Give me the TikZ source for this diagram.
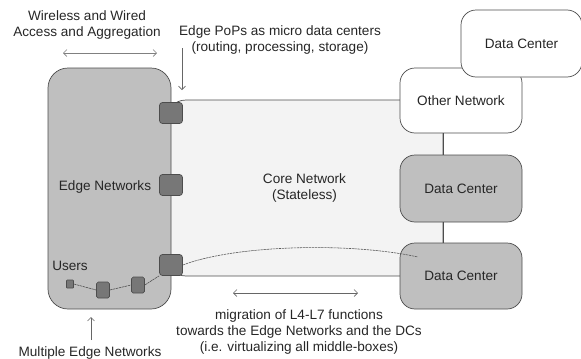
\documentclass[tikz,border=0pt]{standalone}
\usepackage{fontspec}
\setmainfont{Liberation Sans}
\usetikzlibrary{arrows.meta}
\definecolor{edgegray}{HTML}{BFBFBF}
\definecolor{popgray}{HTML}{777777}
\definecolor{coregray}{HTML}{F3F3F3}
\definecolor{linegray}{HTML}{4D4D4D}
\tikzset{
  netbox/.style={draw=linegray, line width=0.6pt, rounded corners=0.45cm, align=center},
  popbox/.style={draw=linegray, fill=popgray, line width=0.6pt, rounded corners=0.09cm, minimum width=23*0.03cm, minimum height=21*0.03cm, inner sep=0pt},
  userbox/.style={draw=linegray, fill=popgray, line width=0.5pt, rounded corners=0.05cm, inner sep=0pt},
  note/.style={align=center, inner sep=0pt},
  hint/.style={draw=gray, line width=0.5pt, {Straight Barb[length=3pt,width=6pt]}-{Straight Barb[length=3pt,width=6pt]}},
  pointer/.style={draw=gray!80!black, line width=0.5pt, -{Straight Barb[length=3pt,width=6pt]}},
  wire/.style={draw=linegray, line width=0.5pt, densely dashed, dash pattern=on 2pt off 0.6pt},
}
\begin{document}
\begin{tikzpicture}[x=0.03cm, y=-0.03cm, font=\fontsize{11.6}{13.6}\selectfont, text=black!85]
  \useasboundingbox (0,0) rectangle (581,358);
  %%% core and edge
  \node[netbox, fill=coregray, rounded corners=0.6cm, minimum width=277*0.03cm, minimum height=176*0.03cm] (core) at (304.5,188) {Core Network\\(Stateless)};
  \node[netbox, fill=edgegray, rounded corners=0.6cm, minimum width=123*0.03cm, minimum height=241*0.03cm] (edge) at (109.5,188.5) {};
  \node[note] (edgelbl) at (105,187) {Edge Networks};
  %%% edge PoPs
  \node[popbox] (pop1) at (171,113) {};
  \node[popbox] (pop2) at (171,185) {};
  \node[popbox] (pop3) at (171,265) {};
  %%% users
  \node[note] (userlbl) at (70,266) {Users};
  \node[userbox, rounded corners=0.02cm, minimum width=7*0.03cm, minimum height=8*0.03cm] (user0) at (70,284) {};
  \node[userbox, minimum width=13*0.03cm, minimum height=16*0.03cm] (user1) at (103,290) {};
  \node[userbox, minimum width=13*0.03cm, minimum height=16*0.03cm] (user2) at (138,285) {};
  \draw[wire] (user0.east) -- (user1.west);
  \draw[wire] (user1.east) -- (user2.west);
  \draw[wire] (user2.east) -- (pop3.south west);
  %%% other network and data centers
  \node[netbox, fill=white, minimum width=122*0.03cm, minimum height=65*0.03cm] (other) at (461,100.5) {Other Network};
  \node[netbox, fill=white, minimum width=121*0.03cm, minimum height=67*0.03cm] (dctop) at (521.5,43.5) {Data Center};
  \node[netbox, fill=edgegray, minimum width=122*0.03cm, minimum height=67*0.03cm] (dc1) at (461,188.5) {Data Center};
  \node[netbox, fill=edgegray, minimum width=122*0.03cm, minimum height=66*0.03cm] (dc2) at (461,276) {Data Center};
  \draw[linegray, line width=0.6pt] (other.south -| core.east) -- (dc1.north -| core.east);
  \draw[linegray, line width=0.6pt] (dc1.south -| core.east) -- (dc2.north -| core.east);
  %%% migration path
  \coordinate (migend) at (418,257);
  \draw[wire, gray!70!black] (pop3.east) .. controls (235,245) and (350,242) .. (migend);
  %%% annotations
  \node[note] (access) at (87,25) {Wireless and Wired\\Access and Aggregation};
  \coordinate (accl) at (63,53);
  \coordinate (accr) at (157,53);
  \draw[hint] (accl) -- (accr);
  \node[note] (pops) at (280,40) {Edge PoPs as micro data centers\\(routing, processing, storage)};
  \coordinate (popsarr) at (182,48);
  \draw[pointer] (popsarr) -- (182,90);
  \node[note] (multi) at (90,353) {Multiple Edge Networks};
  \coordinate (multiarr) at (91,340);
  \draw[pointer] (multiarr) -- (91,317);
  \coordinate (migl) at (233,293);
  \coordinate (migr) at (358,293);
  \draw[hint, gray!80!black] (migl) -- (migr);
  \node[note] (miglbl) at (299,332) {migration of L4-L7 functions\\towards the Edge Networks and the DCs\\(i.e. virtualizing all middle-boxes)};
\end{tikzpicture}
\end{document}
